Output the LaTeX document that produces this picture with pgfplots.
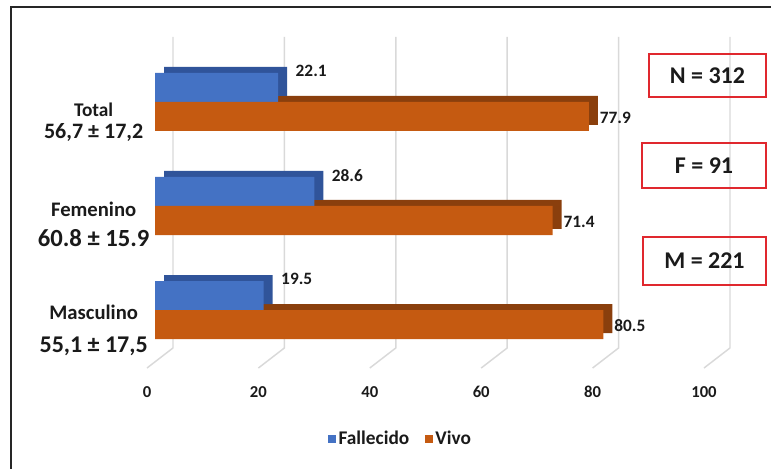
\documentclass[border=0pt]{standalone}
\usepackage{pgfplots}
\pgfplotsset{compat=1.18}
\usepackage{pgfplotstable}
\usepackage{fontspec}
\setmainfont{Carlito}
\definecolor{cblue}{HTML}{4472C4}
\definecolor{cblued}{HTML}{30549A}
\definecolor{corange}{HTML}{C55A11}
\definecolor{coranged}{HTML}{8A3F0D}
\definecolor{cgrid}{HTML}{D9D9D9}
\definecolor{cred}{HTML}{E0282E}
\definecolor{ctext}{HTML}{1A1A1A}

\pgfplotstableread{
y fallecido vivo
0 19.5 80.5
1 28.6 71.4
2 22.1 77.9
}\datatable

\begin{document}
\begin{tikzpicture}[x=0.75pt,y=0.75pt]
\useasboundingbox (0,0) rectangle (771,468);
\draw[line width=1.5pt, black!85] (10.5,-5) -- (10.5,461) -- (780,461);
\begin{axis}[
  at={(116.25pt,79.5pt)}, anchor=south west,
  scale only axis, width=417.75pt, height=243.75pt,
  xmin=0, xmax=100, ymin=-0.5, ymax=2.625,
  clip=false,
  axis line style={draw=none}, tick style={draw=none},
  xtick={0,20,...,100}, ytick={0,1,2},
  yticklabels={
    {\begin{tabular}{@{}c@{}}{\fontsize{15.5}{18}\selectfont Masculino}\\[9pt]{\fontsize{18}{21}\selectfont 55,1 ± 17,5}\end{tabular}},
    {\begin{tabular}{@{}c@{}}{\fontsize{15.5}{18}\selectfont Femenino}\\[6pt]{\fontsize{18.5}{21}\selectfont 60.8 ± 15.9}\end{tabular}},
    {\begin{tabular}{@{}c@{}}{\fontsize{14.5}{17}\selectfont Total}\\[2pt]{\fontsize{16.5}{19}\selectfont 56,7 ± 17,2}\end{tabular}}
  },
  /pgf/number format/assume math mode=true,
  xticklabel style={anchor=center, xshift=-6pt, yshift=-22.5pt, font=\bfseries\fontsize{12.5}{14}\selectfont, text=ctext},
  yticklabel style={anchor=center, xshift=-46pt, yshift=-15.75pt, font=\bfseries, text=ctext},
  legend style={at={(0.4417,-0.237)}, anchor=center, draw=none, fill=none,
    legend columns=2, font=\bfseries\fontsize{14.5}{16}\selectfont, text=ctext,
    /tikz/every even column/.append style={column sep=10pt}},
  legend image code/.code={\fill[#1] (0pt,-2.8pt) rectangle (5.6pt,2.8pt);},
]
% gridlines (back wall + floor)
\addplot[cgrid, line width=1.1pt, forget plot] coordinates {(3.23,2.625) (3.23,-0.365) (-1.44,-0.558)};
\addplot[cgrid, line width=1.1pt, forget plot] coordinates {(23.23,2.625) (23.23,-0.365) (18.56,-0.558)};
\addplot[cgrid, line width=1.1pt, forget plot] coordinates {(43.23,2.625) (43.23,-0.365) (38.56,-0.558)};
\addplot[cgrid, line width=1.1pt, forget plot] coordinates {(63.23,2.625) (63.23,-0.365) (58.56,-0.558)};
\addplot[cgrid, line width=1.1pt, forget plot] coordinates {(83.23,2.625) (83.23,-0.365) (78.56,-0.558)};
\addplot[cgrid, line width=1.1pt, forget plot] coordinates {(103.23,2.625) (103.23,-0.365) (98.56,-0.558)};
% depth (shadow) faces
\addplot[xbar, bar width=21.75pt, bar shift=-6.375pt, fill=coranged, draw=none, xshift=6.75pt, forget plot]
  table[x=vivo, y=y] {\datatable};
\addplot[xbar, bar width=21.75pt, bar shift=15.375pt, fill=cblued, draw=none, xshift=6.75pt, forget plot]
  table[x=fallecido, y=y] {\datatable};
% front faces
\addplot[xbar, bar width=21.75pt, bar shift=10.875pt, fill=cblue, draw=none,
  nodes near coords, nodes near coords style={anchor=west, inner sep=0pt, xshift=13pt, yshift=23pt,
  font=\bfseries\fontsize{13}{15}\selectfont, text=ctext}]
  table[x=fallecido, y=y] {\datatable};
\addlegendentry{Fallecido}
\addplot[xbar, bar width=21.75pt, bar shift=-10.875pt, fill=corange, draw=none,
  nodes near coords, nodes near coords style={anchor=west, inner sep=0pt, xshift=8pt, yshift=-12pt,
  font=\bfseries\fontsize{13}{15}\selectfont, text=ctext}]
  table[x=vivo, y=y] {\datatable};
\addlegendentry{Vivo}
\end{axis}
\node[draw=cred, line width=1.5pt, minimum width=87.75pt, minimum height=32.25pt, text=ctext,
  font=\bfseries\fontsize{18}{20}\selectfont] at (707.5,392.5) {N = 312};
\node[draw=cred, line width=1.5pt, minimum width=93pt, minimum height=33.75pt, text=ctext,
  font=\bfseries\fontsize{18}{20}\selectfont] at (704,302.5) {F = 91};
\node[draw=cred, line width=1.5pt, minimum width=92.25pt, minimum height=36pt, text=ctext,
  font=\bfseries\fontsize{18}{20}\selectfont] at (704.5,207) {M = 221};
\end{tikzpicture}
\end{document}
